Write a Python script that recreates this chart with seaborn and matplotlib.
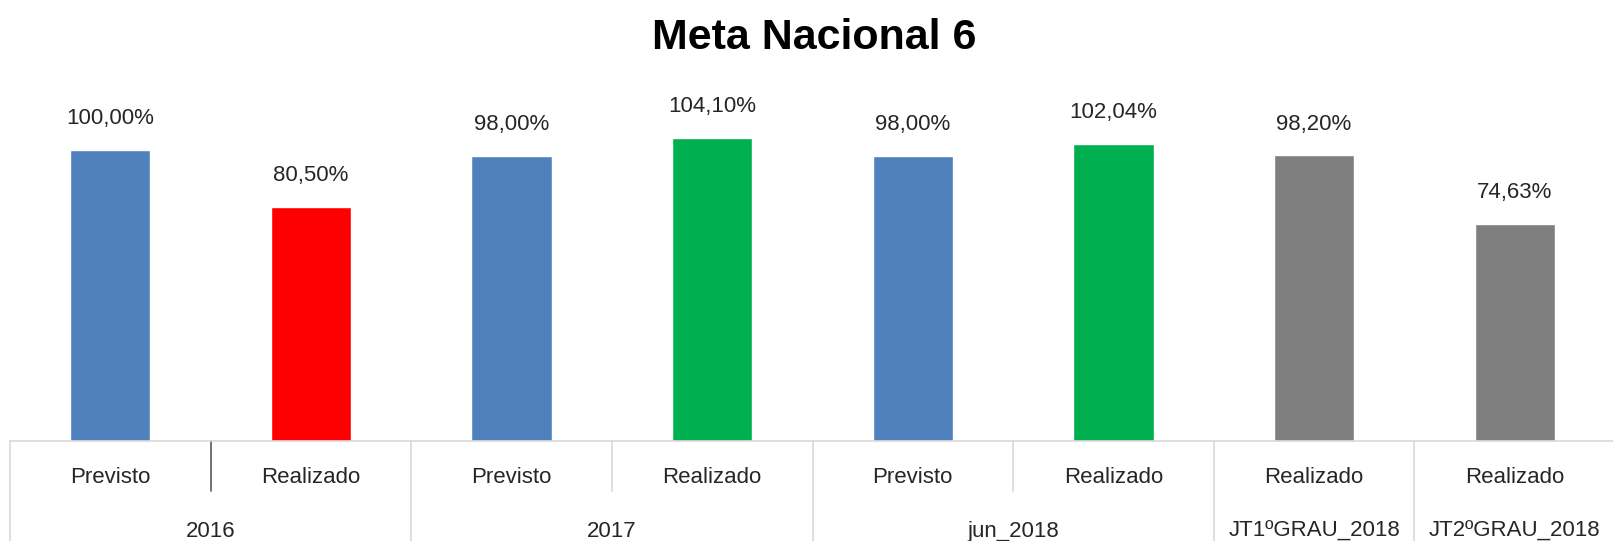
import matplotlib
matplotlib.use("Agg")

import matplotlib.pyplot as plt
import seaborn as sns
import pandas as pd

# data
groups = ["2016", "2016", "2017", "2017", "jun_2018", "jun_2018",
          "JT1ºGRAU_2018", "JT2ºGRAU_2018"]
kinds = ["Previsto", "Realizado", "Previsto", "Realizado",
         "Previsto", "Realizado", "Realizado", "Realizado"]
values = [100.00, 80.50, 98.00, 104.10, 98.00, 102.04, 98.20, 74.63]

BLUE = "#4F81BD"
RED = "#FF0000"
GREEN = "#00B050"
GRAY = "#7F7F7F"
bar_colors = [BLUE, RED, BLUE, GREEN, BLUE, GREEN, GRAY, GRAY]

LINE = "#D9D9D9"
DARK = "#595959"
TEXT = "#262626"

sns.set_theme(style="white")
plt.rcParams["font.family"] = ["Liberation Sans", "DejaVu Sans"]

df = pd.DataFrame({"slot": range(len(values)), "value": values,
                   "group": groups, "kind": kinds})

fig = plt.figure(figsize=(16.13, 5.41), dpi=100)
ax = fig.add_axes([10 / 1613, 100 / 541, 1605 / 1613, 349 / 541])

sns.barplot(data=df, x="slot", y="value", hue="slot",
            palette=bar_colors, width=0.4, legend=False, ax=ax,
            saturation=1)

ax.set_xlim(-0.5, len(values) - 0.5)
ax.set_ylim(0, 120)
ax.set_xticks([])
ax.set_yticks([])
ax.set_xlabel("")
ax.set_ylabel("")
for side in ["top", "right", "left"]:
    ax.spines[side].set_visible(False)
ax.spines["bottom"].set_color(LINE)
ax.spines["bottom"].set_linewidth(1.2)

# value labels
for i, v in enumerate(values):
    ax.annotate(f"{v:.2f}%".replace(".", ","), (i, v),
                xytext=(0, 15), textcoords="offset points",
                ha="center", va="bottom", fontsize=16, color=TEXT)

trans = ax.get_xaxis_transform()

# first row: kind labels
for i, k in enumerate(kinds):
    ax.text(i, -0.105, k, transform=trans, ha="center", va="center",
            fontsize=16, color=TEXT)

# second row: group labels and separators
spans = []
for i, g in enumerate(groups):
    if spans and spans[-1][0] == g:
        spans[-1][2] = i
    else:
        spans.append([g, i, i])

for g, a, b in spans:
    ax.text((a + b) / 2, -0.258, g, transform=trans, ha="center",
            va="center", fontsize=16, color=TEXT)
    ax.plot([a - 0.5, a - 0.5], [0, -0.29], transform=trans, color=LINE,
            lw=1.2, clip_on=False)
    for j in range(a + 1, b + 1):
        col = DARK if j == 1 else LINE
        ax.plot([j - 0.5, j - 0.5], [0, -0.143], transform=trans,
                color=col, lw=1.2, clip_on=False)

fig.suptitle("Meta Nacional 6", x=0.505, y=0.93, fontsize=31,
             fontweight="bold", color="black", va="center")

fig.savefig("out.png", dpi=100, facecolor="white")
